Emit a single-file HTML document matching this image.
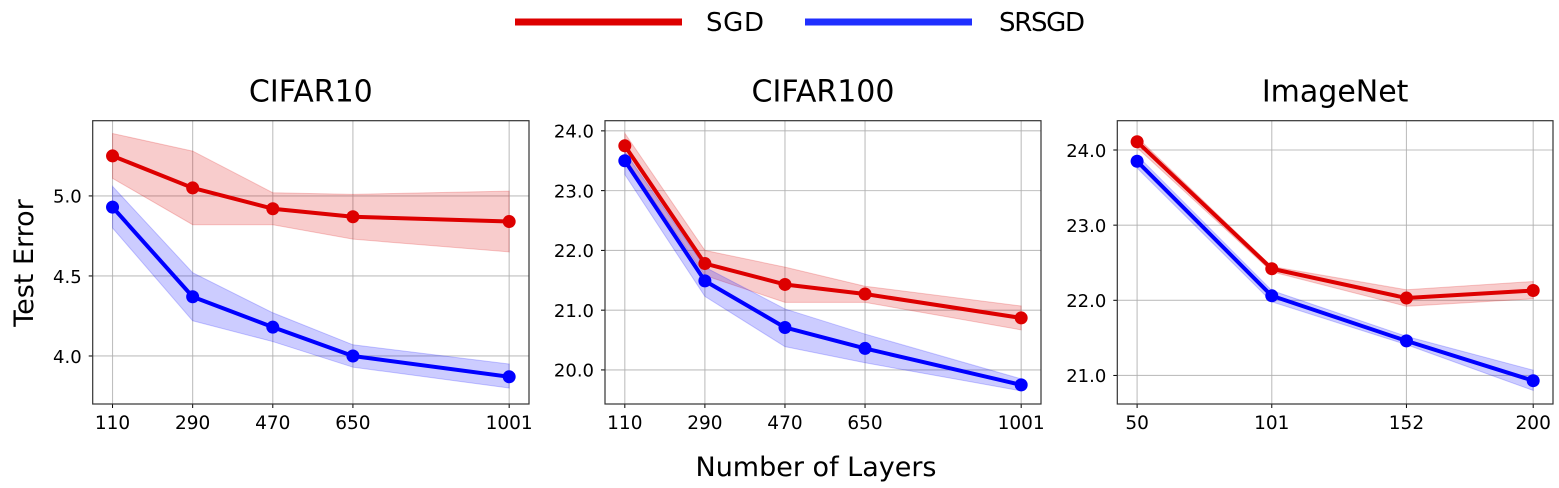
<!DOCTYPE html>
<html><head><meta charset="utf-8"><style>
body{margin:0;background:#fff}
svg{display:block;font-family:"DejaVu Sans","Liberation Sans",sans-serif}
</style></head><body>
<svg id="chart" width="1559" height="488" viewBox="0 0 1559 488" xmlns="http://www.w3.org/2000/svg">
<g>
<line x1="515" y1="22" x2="682" y2="22" stroke="#dd0000" stroke-width="7"/>
<text x="706" y="31" font-size="26" textLength="58">SGD</text>
<line x1="805" y1="22" x2="972" y2="22" stroke="#1f2fff" stroke-width="7"/>
<text x="999" y="31" font-size="26" textLength="86">SRSGD</text>
</g>
<text x="0" y="0" transform="translate(33,263) rotate(-90)" text-anchor="middle" font-size="27">Test Error</text>
<text x="816" y="476" text-anchor="middle" font-size="27">Number of Layers</text>
</svg>
<script>
const c10Cats=[110,290,470,650,1001];
const c10Sgd=[5.25,5.05,4.92,4.87,4.84];
const c10SgdHi=[5.39,5.28,5.02,5.01,5.03];
const c10SgdLo=[5.11,4.82,4.82,4.73,4.65];
const c10Sr=[4.93,4.37,4.18,4.00,3.87];
const c10SrHi=[5.06,4.52,4.27,4.07,3.95];
const c10SrLo=[4.80,4.22,4.09,3.93,3.80];
const c10YTicks=[4.0,4.5,5.0];

const c100Cats=[110,290,470,650,1001];
const c100Sgd=[23.75,21.78,21.43,21.27,20.87];
const c100SgdHi=[23.96,22.0,21.72,21.40,21.07];
const c100SgdLo=[23.55,21.58,21.13,21.13,20.67];
const c100Sr=[23.50,21.49,20.71,20.36,19.75];
const c100SrHi=[23.65,21.72,21.02,20.60,19.85];
const c100SrLo=[23.27,21.23,20.39,20.12,19.65];
const c100YTicks=[20.0,21.0,22.0,23.0,24.0];

const inCats=[50,101,152,200];
const inSgd=[24.11,22.42,22.03,22.13];
const inSgdHi=[24.17,22.45,22.14,22.25];
const inSgdLo=[24.03,22.38,21.92,22.02];
const inSr=[23.85,22.06,21.46,20.93];
const inSrHi=[23.93,22.13,21.52,21.07];
const inSrLo=[23.76,21.98,21.41,20.80];
const inYTicks=[21.0,22.0,23.0,24.0];

const NS='http://www.w3.org/2000/svg';
const svg=document.getElementById('chart');
function mk(tag,attrs,parent){const e=document.createElementNS(NS,tag);for(const k in attrs)e.setAttribute(k,attrs[k]);(parent||svg).appendChild(e);return e;}

function panel(key,title,left,right,cats,ymin,ymax,yticks,series){
  const top=120.7,bottom=404;
  const g=mk('g',{});
  
  
  const xmin=cats[0],xmaxv=cats[cats.length-1],pad=(xmaxv-xmin)*0.05;
  const sx=v=>left+(v-(xmin-pad))/((xmaxv+pad)-(xmin-pad))*(right-left);
  const sy=v=>bottom-(v-ymin)/(ymax-ymin)*(bottom-top);
  const t=mk('text',{x:(left+right)/2,y:101.5,'text-anchor':'middle','font-size':30},g);
  t.textContent=title;
  
  
  cats.forEach(v=>{
    const l=mk('line',{x1:sx(v),x2:sx(v),y1:top,y2:bottom,stroke:'#b0b0b0','stroke-width':1.1,opacity:0.8},g);
    
    
    mk('line',{x1:sx(v),x2:sx(v),y1:bottom,y2:bottom+4,stroke:'#000','stroke-width':1},g);
    const tx=mk('text',{x:sx(v),y:429,'text-anchor':'middle','font-size':18.5},g);
    tx.textContent=v;
    
    
  });
  yticks.forEach(v=>{
    const l=mk('line',{x1:left,x2:right,y1:sy(v),y2:sy(v),stroke:'#b0b0b0','stroke-width':1.1,opacity:0.8},g);
    
    
    mk('line',{x1:left-4,x2:left,y1:sy(v),y2:sy(v),stroke:'#000','stroke-width':1},g);
    const tx=mk('text',{x:left-11,y:sy(v)+6.8,'text-anchor':'end','font-size':18},g);
    tx.textContent=v.toFixed(1);
    
    
  });
  series.forEach(s=>{
    let d='';
    cats.forEach((c,i)=>{d+=(i?'L':'M')+sx(c)+','+sy(s.hi[i]);});
    for(let i=cats.length-1;i>=0;i--)d+='L'+sx(cats[i])+','+sy(s.lo[i]);
    const band=mk('path',{d:d+'Z',fill:s.color,'fill-opacity':0.2,stroke:s.color,'stroke-opacity':0.2},g);
    
    
  });
  series.forEach(s=>{
    const pts=cats.map((c,i)=>sx(c)+','+sy(s.v[i])).join(' ');
    const pl=mk('polyline',{points:pts,fill:'none',stroke:s.color,'stroke-width':4,'stroke-linejoin':'round'},g);
    
    
    cats.forEach((c,i)=>{
      const m=mk('circle',{cx:sx(c),cy:sy(s.v[i]),r:6.5,fill:s.color},g);
      
      
    });
  });
  const f=mk('rect',{x:left,y:top,width:right-left,height:bottom-top,fill:'none',stroke:'#333','stroke-width':1.2},g);
  
  
}
const RED='#dd0000',BLUE='#0000ff';
panel('cifar10','CIFAR10',92.7,529,c10Cats,3.70,5.47,c10YTicks,[
  {name:'sgd',color:RED,v:c10Sgd,hi:c10SgdHi,lo:c10SgdLo},
  {name:'srsgd',color:BLUE,v:c10Sr,hi:c10SrHi,lo:c10SrLo}]);
panel('cifar100','CIFAR100',605,1041,c100Cats,19.43,24.17,c100YTicks,[
  {name:'sgd',color:RED,v:c100Sgd,hi:c100SgdHi,lo:c100SgdLo},
  {name:'srsgd',color:BLUE,v:c100Sr,hi:c100SrHi,lo:c100SrLo}]);
panel('imagenet','ImageNet',1117.3,1553,inCats,20.62,24.39,inYTicks,[
  {name:'sgd',color:RED,v:inSgd,hi:inSgdHi,lo:inSgdLo},
  {name:'srsgd',color:BLUE,v:inSr,hi:inSrHi,lo:inSrLo}]);
</script>
</body></html>
